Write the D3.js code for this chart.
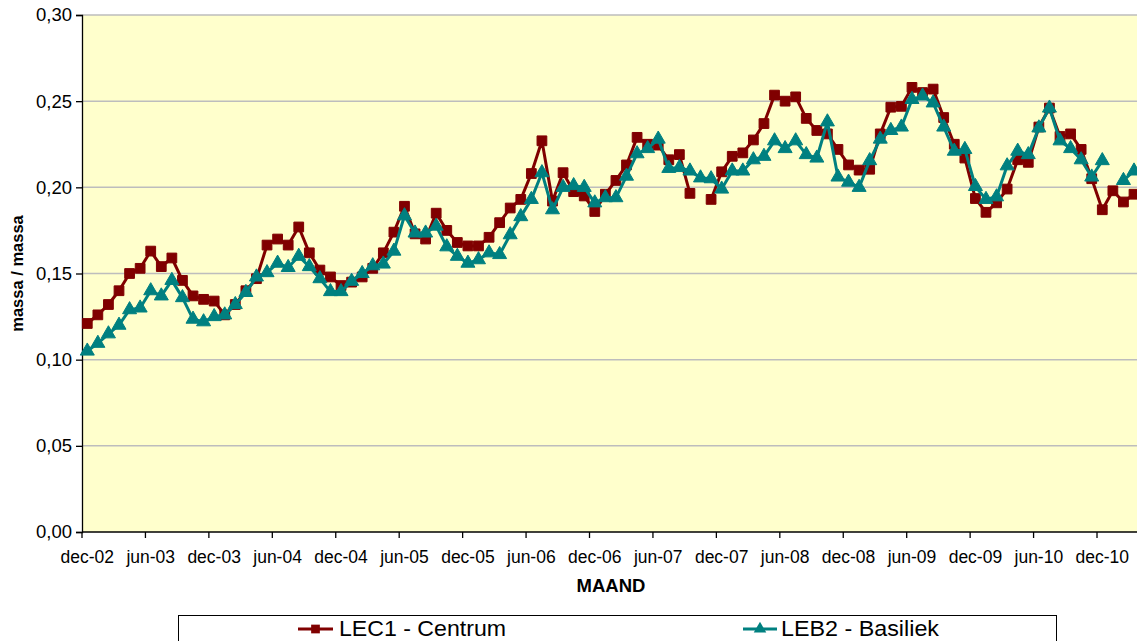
<!DOCTYPE html>
<html>
<head>
<meta charset="utf-8">
<script src="https://cdn.jsdelivr.net/npm/d3@7"></script>
<style>
  html, body { margin: 0; padding: 0; background: #ffffff; }
  svg { display: block; }
  text { font-family: Arial, "Liberation Sans", sans-serif; fill: #000; }
</style>
</head>
<body>
<svg id="chart" width="1137" height="641"></svg>
<script>
const categories = [
  "dec-02",
  "jan-03","feb-03","mrt-03","apr-03","mei-03","jun-03","jul-03","aug-03","sep-03","okt-03","nov-03","dec-03",
  "jan-04","feb-04","mrt-04","apr-04","mei-04","jun-04","jul-04","aug-04","sep-04","okt-04","nov-04","dec-04",
  "jan-05","feb-05","mrt-05","apr-05","mei-05","jun-05","jul-05","aug-05","sep-05","okt-05","nov-05","dec-05",
  "jan-06","feb-06","mrt-06","apr-06","mei-06","jun-06","jul-06","aug-06","sep-06","okt-06","nov-06","dec-06",
  "jan-07","feb-07","mrt-07","apr-07","mei-07","jun-07","jul-07","aug-07","sep-07","okt-07","nov-07","dec-07",
  "jan-08","feb-08","mrt-08","apr-08","mei-08","jun-08","jul-08","aug-08","sep-08","okt-08","nov-08","dec-08",
  "jan-09","feb-09","mrt-09","apr-09","mei-09","jun-09","jul-09","aug-09","sep-09","okt-09","nov-09","dec-09",
  "jan-10","feb-10","mrt-10","apr-10","mei-10","jun-10","jul-10","aug-10","sep-10","okt-10","nov-10","dec-10",
  "jan-11","feb-11","mrt-11"
];

const lec1Centrum = [
  0.121, 0.126, 0.132, 0.140, 0.150, 0.153, 0.163, 0.154, 0.159, 0.146,
  0.137, 0.135, 0.134, 0.126, 0.132, 0.140, 0.147, 0.1665, 0.170, 0.1665,
  0.177, 0.162, 0.152, 0.148, 0.143, 0.145, 0.148, 0.153, 0.162, 0.174,
  0.189, 0.173, 0.170, 0.185, 0.175, 0.168, 0.166, 0.166, 0.171, 0.1795,
  0.188, 0.193, 0.208, 0.227, 0.192, 0.2085, 0.1975, 0.195, 0.186, 0.196,
  0.204, 0.213, 0.229, 0.225, 0.2245, 0.216, 0.219, 0.1965, null, 0.193,
  0.209, 0.218, 0.220, 0.2275, 0.237, 0.2535, 0.250, 0.2525, 0.240, 0.233,
  0.231, 0.222, 0.213, 0.210, 0.2105, 0.231, 0.2465, 0.247, 0.258, 0.255,
  0.257, 0.2405, 0.225, 0.217, 0.1935, 0.1855, 0.191, 0.199, 0.216, 0.2145,
  0.235, 0.246, 0.2295, 0.231, 0.222, 0.205, 0.187, 0.198, 0.1915, 0.196
];

const leb2Basiliek = [
  0.105, 0.1095, 0.115, 0.120, 0.129, 0.130, 0.140, 0.137, 0.146, 0.136,
  0.1235, 0.122, 0.125, 0.126, 0.132, 0.139, 0.148, 0.1505, 0.156, 0.1535,
  0.160, 0.154, 0.147, 0.1395, 0.1395, 0.1455, 0.150, 0.1545, 0.1555, 0.163,
  0.1835, 0.1735, 0.1735, 0.1775, 0.1655, 0.160, 0.156, 0.158, 0.162, 0.161,
  0.1725, 0.183, 0.193, 0.2085, 0.187, 0.200, 0.201, 0.200, 0.191, 0.194,
  0.194, 0.2065, 0.2195, 0.2225, 0.228, 0.211, 0.2115, 0.2095, 0.2055, 0.205,
  0.199, 0.2095, 0.2095, 0.216, 0.218, 0.227, 0.2225, 0.227, 0.219, 0.217,
  0.238, 0.206, 0.203, 0.200, 0.2155, 0.228, 0.233, 0.235, 0.251, 0.253,
  0.249, 0.235, 0.221, 0.222, 0.2005, 0.193, 0.1945, 0.2125, 0.221, 0.219,
  0.2345, 0.246, 0.227, 0.2225, 0.216, 0.206, 0.2155, null, 0.204, 0.2095
];

const yTicks = [0, 0.05, 0.10, 0.15, 0.20, 0.25, 0.30];
const seriesNames = ["LEC1 - Centrum", "LEB2 - Basiliek"];
const xAxisTitle = "MAAND";
const yAxisTitle = "massa / massa";

const svg = d3.select("#chart");
const W = 1137, H = 641;
const plot = { left: 82, right: 1139.3, top: 15, bottom: 532 };

svg.append("rect").attr("x", 0).attr("y", 0).attr("width", W).attr("height", H).attr("fill", "#ffffff");

const x = d3.scaleBand().domain(categories).range([plot.left, plot.right]).padding(0);
const y = d3.scaleLinear().domain([0, 0.30]).range([plot.bottom, plot.top]);
const cx = c => x(c) + x.bandwidth() / 2;

// plot area
svg.append("rect")
  .attr("x", plot.left).attr("y", plot.top)
  .attr("width", plot.right - plot.left).attr("height", plot.bottom - plot.top)
  .attr("fill", "#FFFFCC");

// gridlines
svg.append("g").selectAll("line").data(yTicks.filter(d => d > 0)).join("line")
  .attr("x1", plot.left).attr("x2", plot.right)
  .attr("y1", d => y(d)).attr("y2", d => y(d))
  .attr("stroke", "#BDBDBD").attr("stroke-width", 1.5);

// y axis
const fmt = d => d3.format(".2f")(d).replace(".", ",");
const yAxis = d3.axisLeft(y).tickValues(yTicks).tickFormat(fmt).tickSize(6).tickPadding(4);
const gy = svg.append("g").attr("transform", `translate(${plot.left},0)`).call(yAxis);
gy.select(".domain").attr("stroke", "#000").attr("stroke-width", 1.3);
gy.selectAll(".tick line").attr("stroke", "#000").attr("stroke-width", 1.3);
gy.selectAll(".tick text").attr("font-size", "18.5px").attr("font-family", "Arial, 'Liberation Sans', sans-serif").attr("fill", "#000");

// x axis: ticks at category boundaries every 6, labels at centers
const tickCats = categories.filter((c, i) => i % 6 === 0);
const gx = svg.append("g");
gx.append("line")
  .attr("x1", plot.left).attr("x2", plot.right)
  .attr("y1", plot.bottom).attr("y2", plot.bottom)
  .attr("stroke", "#000").attr("stroke-width", 1.3);
gx.selectAll("line.tk").data(tickCats).join("line").attr("class", "tk")
  .attr("x1", d => x(d)).attr("x2", d => x(d))
  .attr("y1", plot.bottom).attr("y2", plot.bottom + 6)
  .attr("stroke", "#000").attr("stroke-width", 1.3);
gx.selectAll("text").data(tickCats).join("text")
  .attr("x", d => cx(d)).attr("y", plot.bottom + 31)
  .attr("text-anchor", "middle")
  .attr("font-size", "17.5px")
  .text(d => d);

// axis titles
svg.append("text").attr("x", 611).attr("y", 592).attr("text-anchor", "middle")
  .attr("font-size", "18.5px").attr("font-weight", "bold").text(xAxisTitle);
svg.append("text").attr("transform", `translate(23,${(plot.top + plot.bottom) / 2}) rotate(-90)`)
  .attr("text-anchor", "middle").attr("font-size", "16.5px").attr("font-weight", "bold").text(yAxisTitle);

// series
const series = [
  { name: seriesNames[0], values: lec1Centrum, color: "#800000", symbol: d3.symbolSquare, size: 95 },
  { name: seriesNames[1], values: leb2Basiliek, color: "#008080", symbol: d3.symbolTriangle, size: 85 }
];

const line = d3.line()
  .defined(d => d.v != null)
  .x(d => cx(d.c)).y(d => y(d.v));

series.forEach(s => {
  const pts = categories.map((c, i) => ({ c, v: s.values[i] }));
  svg.append("path").datum(pts)
    .attr("fill", "none").attr("stroke", s.color).attr("stroke-width", 3)
    .attr("stroke-linejoin", "round")
    .attr("d", line);
  svg.append("g").selectAll("path").data(pts.filter(d => d.v != null)).join("path")
    .attr("transform", d => `translate(${cx(d.c)},${y(d.v)})`)
    .attr("d", d3.symbol().type(s.symbol).size(s.size))
    .attr("fill", s.color).attr("stroke", s.color).attr("stroke-width", 1);
});

// legend
const lg = svg.append("g");
lg.append("rect").attr("x", 178.5).attr("y", 615.5).attr("width", 878).attr("height", 40)
  .attr("fill", "#fff").attr("stroke", "#000").attr("stroke-width", 1);
const legendItems = [
  { s: series[0], x1: 298, x2: 333, tx: 339 },
  { s: series[1], x1: 743, x2: 777, tx: 781 }
];
legendItems.forEach(it => {
  const ly = 629;
  lg.append("line").attr("x1", it.x1).attr("x2", it.x2).attr("y1", ly).attr("y2", ly)
    .attr("stroke", it.s.color).attr("stroke-width", 3);
  lg.append("path").attr("transform", `translate(${(it.x1 + it.x2) / 2},${ly})`)
    .attr("d", d3.symbol().type(it.s.symbol).size(it.s.size * 0.8))
    .attr("fill", it.s.color);
  lg.append("text").attr("x", it.tx).attr("y", 636).attr("font-size", "22px")
    .attr("textLength", it.s === series[0] ? 167 : 158).attr("lengthAdjust", "spacingAndGlyphs")
    .text(it.s.name);
});
</script>
</body>
</html>
